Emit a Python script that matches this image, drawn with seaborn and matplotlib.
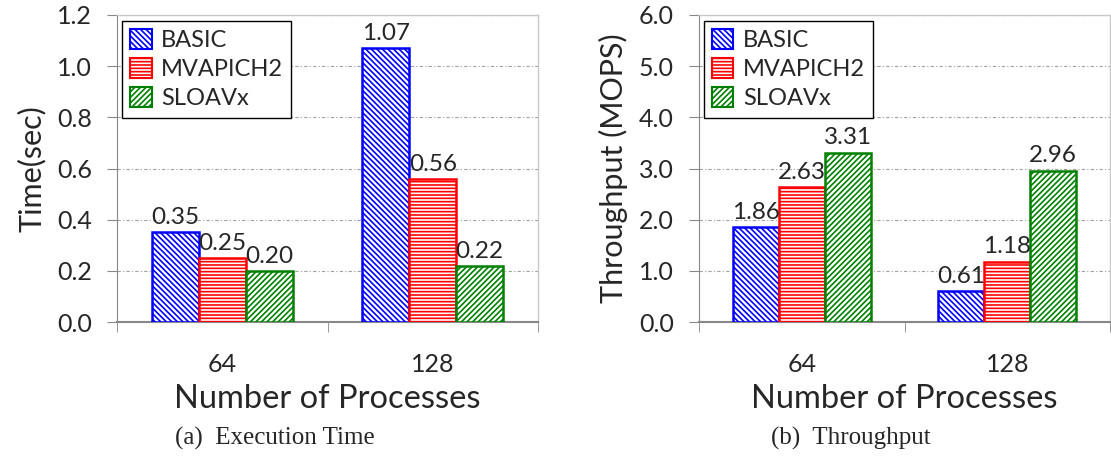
import numpy as np
import pandas as pd
import seaborn as sns
import matplotlib
matplotlib.use("Agg")
import matplotlib.pyplot as plt
import matplotlib.patches as mpatches

# data
procs = ["64", "128"]
methods = ["BASIC", "MVAPICH2", "SLOAVx"]
time_basic = [0.35, 1.07]
time_mvapich = [0.25, 0.56]
time_sloavx = [0.20, 0.22]
tput_basic = [1.86, 0.61]
tput_mvapich = [2.63, 1.18]
tput_sloavx = [3.31, 2.96]

colors = {"BASIC": "#0000ff", "MVAPICH2": "#ff0000", "SLOAVx": "#008000"}
hatches = {"BASIC": "\\\\\\\\\\\\", "MVAPICH2": "-----", "SLOAVx": "//////"}

def make_df(a, b, c):
    rows = []
    for m, vals in zip(methods, [a, b, c]):
        for p, v in zip(procs, vals):
            rows.append({"procs": p, "method": m, "value": v})
    return pd.DataFrame(rows)

time_df = make_df(time_basic, time_mvapich, time_sloavx)
tput_df = make_df(tput_basic, tput_mvapich, tput_sloavx)

sns.set_style("white")
plt.rcParams["font.family"] = ["Lato", "DejaVu Sans"]
plt.rcParams["hatch.linewidth"] = 1.2

fig = plt.figure(figsize=(11.11, 4.67), dpi=100)
ax1 = fig.add_axes([117 / 1111, 1 - 322 / 467, 421 / 1111, 307 / 467])
ax2 = fig.add_axes([699 / 1111, 1 - 322 / 467, 411 / 1111, 307 / 467])


def draw(ax, df, ymax, step, ylabel, lab_fmt):
    sns.barplot(data=df, x="procs", y="value", hue="method", order=procs,
                hue_order=methods, width=0.67, legend=False, ax=ax, zorder=3)
    for cont, m in zip(ax.containers, methods):
        for bar in cont:
            bar.set_facecolor("white")
            bar.set_edgecolor(colors[m])
            bar.set_hatch(hatches[m])
            bar.set_linewidth(1.8)
        ax.bar_label(cont, fmt=lab_fmt, padding=3, fontsize=17.5)
    ax.set_xlim(-0.5, 1.5)
    ax.set_ylim(0, ymax)
    ax.set_yticks(np.arange(0, ymax + step / 2, step))
    ax.yaxis.set_major_formatter(matplotlib.ticker.FormatStrFormatter("%.1f"))
    ax.grid(axis="y", color="#a0a0a0", linestyle=(0, (3, 2, 1, 2)), linewidth=0.8, zorder=0)
    ax.set_axisbelow(True)
    ax.tick_params(axis="y", labelsize=18, length=7, color="#888888", direction="out",
                   left=True, pad=11)
    ax.tick_params(axis="x", which="major", labelsize=18, length=0, pad=22)
    ax.set_xticks([-0.5, 0.5, 1.5], minor=True)
    ax.tick_params(axis="x", which="minor", length=7, color="#888888", direction="out", bottom=True)
    ax.set_xlabel("Number of Processes", fontsize=23.5, labelpad=6)
    ax.set_ylabel(ylabel, fontsize=22, labelpad=8)
    for s in ["top", "right"]:
        ax.spines[s].set_color("#c8c8c8")
        ax.spines[s].set_linewidth(1.0)
    ax.spines["left"].set_color("#888888")
    ax.spines["bottom"].set_color("#888888")
    ax.spines["bottom"].set_linewidth(1.5)
    handles = [mpatches.Patch(facecolor="white", edgecolor=colors[m], hatch=hatches[m],
                              linewidth=1.5, label=m) for m in methods]
    leg = ax.legend(handles=handles, loc="upper left", bbox_to_anchor=(0.012, 0.98),
                    fontsize=17, frameon=True, fancybox=False, framealpha=1,
                    edgecolor="black", handlelength=0.9, handleheight=0.9,
                    handletextpad=0.4, labelspacing=0.3, borderpad=0.35,
                    borderaxespad=0.0)
    leg.get_frame().set_linewidth(1.0)


draw(ax1, time_df, 1.2, 0.2, "Time(sec)", "%.2f")
draw(ax2, tput_df, 6.0, 1.0, "Throughput (MOPS)", "%.2f")

fig.text(275 / 1111, 1 - 438 / 467, "(a)  Execution Time", ha="center", va="center",
         fontsize=18, family=["Liberation Serif"])
fig.text(851 / 1111, 1 - 438 / 467, "(b)  Throughput", ha="center", va="center",
         fontsize=18, family=["Liberation Serif"])

fig.savefig("out.png", dpi=100)
